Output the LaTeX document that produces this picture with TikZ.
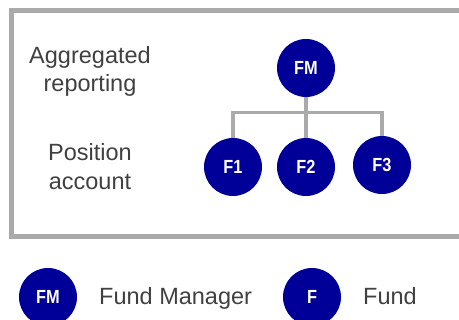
\documentclass[tikz,border=0pt]{standalone}
\usepackage{fontspec}
\setmainfont{Liberation Sans}
\newfontfamily\narrowfont[FakeStretch=0.86]{Liberation Sans}
\definecolor{navy}{RGB}{0,0,153}
\definecolor{boxgray}{RGB}{170,170,170}
\definecolor{txtgray}{RGB}{64,64,64}
\begin{document}
\begin{tikzpicture}[x=1pt,y=-1pt,
  entity/.style={circle,fill=navy,draw=none,minimum size=58pt,inner sep=0pt,
    text=white,font=\narrowfont\bfseries\fontsize{19}{19}\selectfont},
  label/.style={text=txtgray,font=\fontsize{23.5}{28.3}\selectfont,align=center,inner sep=0pt},
  conn/.style={draw=boxgray,line width=3.5pt}]
\useasboundingbox (0,0) rectangle (459,320);
\clip (0,0) rectangle (459,320);
\draw[boxgray,line width=5pt] (11.5,11) rectangle (480,236.5);
\node[label,anchor=base] (agg) at (90,91.7) {Aggregated\\reporting};
\node[label,anchor=base] (pos) at (90,189.3) {Position\\account};
\node[entity] (fm) at (306,68) {FM};
\node[entity] (f1) at (233,167) {F1};
\node[entity] (f2) at (306,167) {F2};
\node[entity] (f3) at (382,165) {F3};
\coordinate (bus) at (306,112.5);
\draw[conn] (fm) -- (bus);
\draw[conn] (f1.north) -- (f1.north |- bus) -- (f3.north |- bus) -- (f3.north);
\draw[conn] (bus) -- (f2.north);
\node[entity] (lfm) at (48,297) {FM};
\node[label,anchor=base west] (lfmt) at (99,305) {Fund Manager};
\node[entity] (lf) at (312,297) {F};
\node[label,anchor=base west] (lft) at (363,305) {Fund};
\end{tikzpicture}
\end{document}
